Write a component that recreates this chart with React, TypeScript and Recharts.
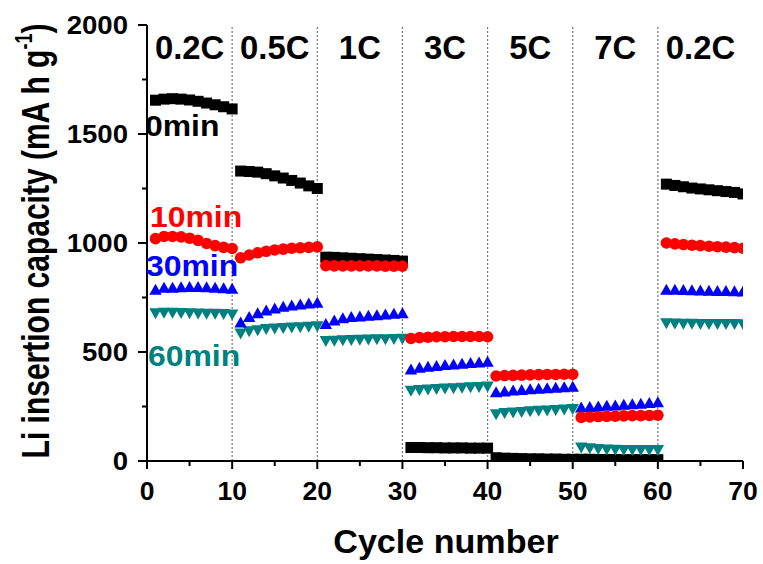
import React from "react";
import {
  ComposedChart,
  Scatter,
  XAxis,
  YAxis,
  ReferenceLine,
} from "recharts";

// cycle index 1..70
const cycles = Array.from({ length: 70 }, (_, i) => i + 1);

const rateLabels = ["0.2C", "0.5C", "1C", "3C", "5C", "7C", "0.2C"];
const rateCenters = [5, 15, 25, 35, 45, 55, 65];
const rateBounds = [10, 20, 30, 40, 50, 60];

const xTicks = [0, 5, 10, 15, 20, 25, 30, 35, 40, 45, 50, 55, 60, 65, 70];
const yTicks = [0, 250, 500, 750, 1000, 1250, 1500, 1750, 2000];

// 0 min
const cap0 = [
  1655, 1660, 1662, 1660, 1656, 1650, 1642, 1634, 1625, 1615,
  1330, 1328, 1325, 1318, 1308, 1298, 1287, 1275, 1262, 1250,
  935, 934, 932, 930, 928, 926, 924, 922, 920, 917,
  62, 62, 61, 61, 60, 60, 60, 59, 59, 59,
  15, 13, 12, 11, 10, 10, 9, 9, 8, 8,
  8, 8, 7, 7, 7, 6, 6, 6, 6, 6,
  1270, 1264, 1258, 1252, 1248, 1244, 1240, 1236, 1232, 1225,
];
// 10 min
const cap10 = [
  1020, 1030, 1030, 1028, 1022, 1012, 998, 988, 980, 975,
  932, 945, 955, 962, 968, 972, 976, 978, 980, 982,
  896, 895, 895, 895, 895, 895, 895, 894, 894, 894,
  562, 566, 568, 570, 570, 571, 571, 571, 571, 570,
  390, 392, 393, 394, 395, 396, 397, 397, 398, 398,
  200, 202, 204, 205, 206, 207, 208, 208, 209, 210,
  1000, 996, 993, 990, 988, 985, 983, 981, 979, 976,
];
// 30 min
const cap30 = [
  785, 795, 795, 797, 798, 798, 797, 795, 792, 790,
  635, 660, 678, 690, 700, 707, 713, 718, 722, 726,
  628, 645, 655, 660, 663, 666, 669, 672, 675, 678,
  420, 428, 432, 436, 440, 443, 446, 449, 452, 455,
  315, 319, 323, 326, 329, 331, 334, 336, 338, 341,
  245, 248, 250, 253, 255, 258, 260, 263, 266, 270,
  786, 785, 784, 783, 782, 781, 780, 780, 779, 778,
];
// 60 min
const cap60 = [
  678, 680, 680, 679, 678, 677, 676, 675, 674, 672,
  585, 595, 600, 605, 608, 610, 612, 614, 616, 618,
  550, 552, 554, 555, 556, 557, 558, 559, 560, 561,
  322, 326, 328, 330, 332, 334, 336, 338, 340, 342,
  215, 220, 223, 225, 228, 230, 232, 234, 236, 238,
  62, 58, 55, 53, 52, 51, 50, 50, 50, 50,
  632, 631, 630, 630, 629, 629, 628, 628, 628, 627,
];

const toPoints = (vals: number[]) => vals.map((v, i) => ({ x: cycles[i], y: v }));

const FONT = "'Liberation Sans', Arial, Helvetica, sans-serif";

const Square = (p: any) => (
  <rect x={p.cx - 5.5} y={p.cy - 5.5} width={11} height={11} fill="#000000" />
);
const Dot = (p: any) => <circle cx={p.cx} cy={p.cy} r={5.8} fill="#ff0000" />;
const TriUp = (p: any) => (
  <path
    d={`M${p.cx},${p.cy - 6} L${p.cx + 6.2},${p.cy + 5} L${p.cx - 6.2},${p.cy + 5} Z`}
    fill="#0000ff"
  />
);
const TriDown = (p: any) => (
  <path
    d={`M${p.cx - 6.2},${p.cy - 5} L${p.cx + 6.2},${p.cy - 5} L${p.cx},${p.cy + 6} Z`}
    fill="#008080"
  />
);

function SText({ x, y, size, sx = 1, sy = 1, anchor = "start", fill = "#000", rotate = 0, children }: any) {
  return (
    <text
      transform={`translate(${x},${y}) rotate(${rotate}) scale(${sx},${sy})`}
      textAnchor={anchor}
      fontSize={size}
      fontWeight="bold"
      fontFamily={FONT}
      fill={fill}
    >
      {children}
    </text>
  );
}

const XTick = (props: any) => {
  const { x, y, payload } = props;
  const major = payload.value % 10 === 0;
  return (
    <g>
      <line x1={x} x2={x} y1={y} y2={y + (major ? 8 : 5)} stroke="#000" strokeWidth={2} />
      {major && (
        <SText x={x} y={y + 39} size={26} sx={1.02} anchor="middle">
          {payload.value}
        </SText>
      )}
    </g>
  );
};

const YTick = (props: any) => {
  const { x, y, payload } = props;
  const major = payload.value % 500 === 0;
  return (
    <g>
      <line x1={x - (major ? 9 : 5)} x2={x} y1={y} y2={y} stroke="#000" strokeWidth={2} />
      {major && (
        <SText x={x - 19} y={y + 9} size={26} sx={1.06} anchor="end">
          {payload.value}
        </SText>
      )}
    </g>
  );
};

export default function App() {
  return (
    <div style={{ position: "absolute", left: 0, top: 0, width: 763, height: 564, background: "#fff" }}>
      <ComposedChart
        width={763}
        height={564}
        margin={{ top: 25, right: 20, left: 0, bottom: 0 }}
      >
        <XAxis
          dataKey="x"
          type="number"
          domain={[0, 70]}
          ticks={xTicks}
          allowDataOverflow
          height={103}
          tickSize={0}
          tickMargin={0}
          tickLine={false}
          tick={<XTick />}
          axisLine={{ stroke: "#000", strokeWidth: 2 }}
          interval={0}
        />
        <XAxis
          xAxisId="top"
          orientation="top"
          type="number"
          domain={[0, 70]}
          height={0}
          tick={false}
          tickLine={false}
          axisLine={{ stroke: "#000", strokeWidth: 2 }}
        />
        <YAxis
          dataKey="y"
          type="number"
          domain={[0, 2000]}
          ticks={yTicks}
          allowDataOverflow
          width={147}
          tickSize={0}
          tickMargin={0}
          tickLine={false}
          tick={<YTick />}
          axisLine={{ stroke: "#000", strokeWidth: 2 }}
          interval={0}
        />
        <YAxis
          yAxisId="right"
          orientation="right"
          type="number"
          domain={[0, 2000]}
          width={0}
          tick={false}
          tickLine={false}
          axisLine={{ stroke: "#000", strokeWidth: 2 }}
        />
        {rateBounds.map((b) => (
          <ReferenceLine key={b} x={b} stroke="#777" strokeWidth={1.2} strokeDasharray="2 2" />
        ))}
        <Scatter data={toPoints(cap0)} shape={Square} isAnimationActive={false} />
        <Scatter data={toPoints(cap60)} shape={TriDown} isAnimationActive={false} />
        <Scatter data={toPoints(cap30)} shape={TriUp} isAnimationActive={false} />
        <Scatter data={toPoints(cap10)} shape={Dot} isAnimationActive={false} />
      </ComposedChart>
      <svg
        width={763}
        height={564}
        style={{ position: "absolute", left: 0, top: 0, pointerEvents: "none" }}
      >
        {rateLabels.map((r, i) => (
          <SText key={i} x={147 + (rateCenters[i] / 70) * 596} y={59} size={31} sx={1.06} sy={1.05} anchor="middle">
            {r}
          </SText>
        ))}
        <SText x={145} y={136} size={29} sx={1.1}>0min</SText>
        <SText x={150} y={227} size={29} sx={1.1} fill="#ff0000">10min</SText>
        <SText x={146} y={276} size={29} sx={1.1} fill="#0000ff">30min</SText>
        <SText x={148} y={366} size={29} sx={1.1} fill="#008080">60min</SText>
        <SText x={446} y={553} size={31} sx={1.1} sy={1.05} anchor="middle">Cycle number</SText>
        <text
          transform="translate(49,241) rotate(-90) scale(1,1.3)"
          textAnchor="middle"
          fontSize={30}
          fontWeight="bold"
          fontFamily={FONT}
          fill="#000"
        >
          Li insertion capacity (mA h g
          <tspan fontSize={18} dy={-13}>-1</tspan>
          <tspan dy={13}>)</tspan>
        </text>
      </svg>
    </div>
  );
}
